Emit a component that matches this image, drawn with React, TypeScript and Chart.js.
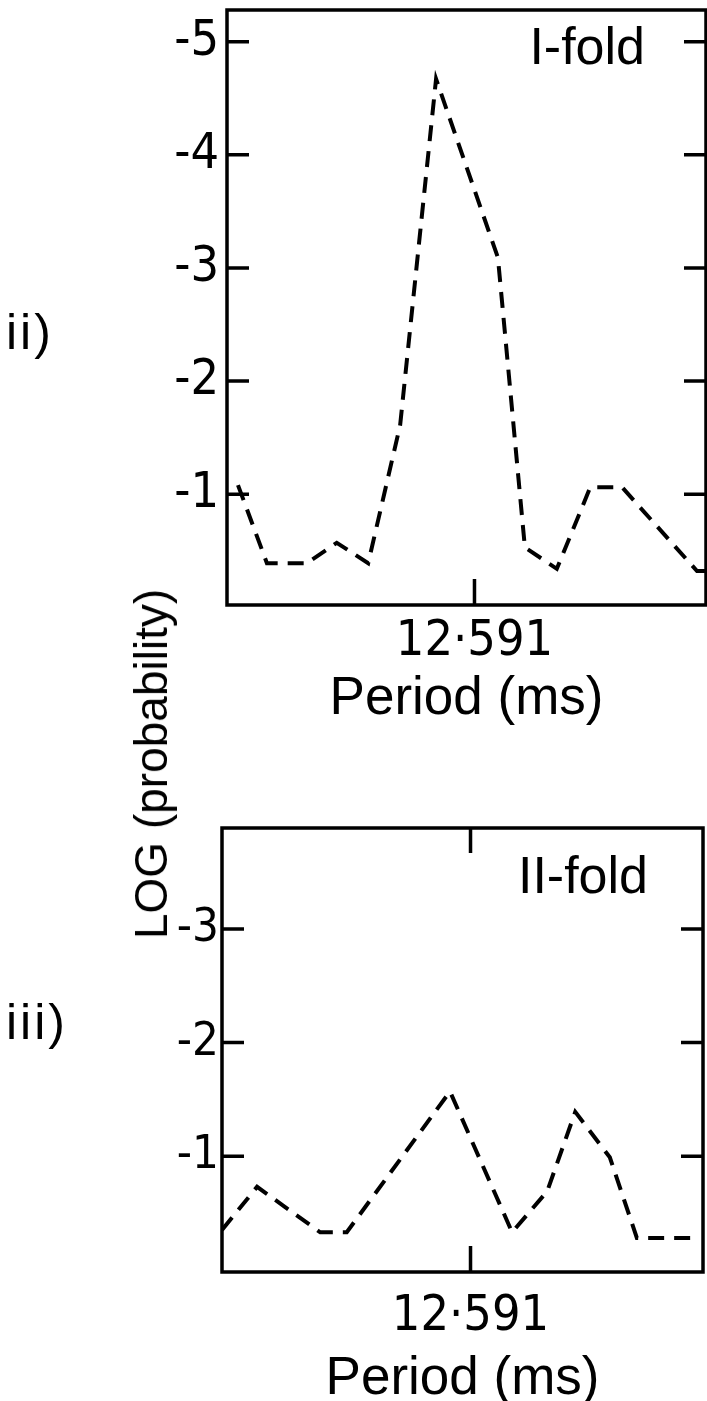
import React, { useEffect, useRef } from "react";
import { Chart, registerables } from "chart.js";

Chart.register(...registerables);

const TEXT_FONT = "'Liberation Sans', Arial, sans-serif";
const NUM_FONT = "'Liberation Sans Narrow', 'DejaVu Sans Condensed', 'Liberation Sans', sans-serif";

// x axis: trial period (ms)
const PERIOD_MIN = 12.58604;
const PERIOD_MAX = 12.59564;
const PERIOD_TICK = 12.591;
const PERIOD_TICK_LABEL = "12·591";

// ii) I-fold
const oneFoldPeriods = [12.58626, 12.58684, 12.58764, 12.58824, 12.58887, 12.58951, 12.59023, 12.59147, 12.59201, 12.59265, 12.59332, 12.59396, 12.59546, 12.59564];
const oneFoldLogProb = [-1.08, -0.39, -0.39, -0.57, -0.39, -1.61, -4.67, -3.09, -0.53, -0.34, -1.06, -1.06, -0.32, -0.32];
const oneFoldTicks = [-5, -4, -3, -2, -1];

// iii) II-fold
const twoFoldPeriods = [12.58604, 12.58674, 12.588, 12.58853, 12.59059, 12.59183, 12.59253, 12.59309, 12.59378, 12.59432, 12.59544];
const twoFoldLogProb = [-0.35, -0.73, -0.33, -0.33, -1.57, -0.33, -0.69, -1.39, -0.99, -0.28, -0.28];
const twoFoldTicks = [-3, -2, -1];

const framePlugin = {
  id: "frame",
  afterDatasetsDraw(chart: any, _args: any, opts: any) {
    const { ctx, chartArea } = chart;
    const { left, right, top, bottom } = chartArea;
    const x = chart.scales.x;
    const y = chart.scales.y;
    ctx.save();
    ctx.strokeStyle = "#000";
    ctx.lineWidth = 3.5;
    ctx.setLineDash([]);
    ctx.strokeRect(left, top, right - left, bottom - top);
    ctx.beginPath();
    for (const t of opts.yTicks) {
      const py = y.getPixelForValue(t);
      ctx.moveTo(left, py);
      ctx.lineTo(left + 22, py);
      ctx.moveTo(right - 22, py);
      ctx.lineTo(right, py);
    }
    const px = x.getPixelForValue(opts.xTick);
    ctx.moveTo(px, bottom);
    ctx.lineTo(px, bottom - 26);
    if (opts.topTick) {
      ctx.moveTo(px, top);
      ctx.lineTo(px, top + 25);
    }
    ctx.stroke();
    ctx.fillStyle = "#000";
    ctx.font = `52px ${TEXT_FONT}`;
    ctx.textAlign = "right";
    ctx.textBaseline = "alphabetic";
    ctx.fillText(opts.label, right - opts.labelRight, top + opts.labelBaseline);
    ctx.restore();
  },
};

type PanelCfg = {
  periods: number[];
  logProb: number[];
  yTicks: number[];
  yMin: number;
  yMax: number;
  label: string;
  labelRight: number;
  labelBaseline: number;
  topTick: boolean;
  padding: { top: number; right: number; bottom: number; left: number };
  yWidth: number;
  xHeight: number;
  yTickPad: number;
  yTickSize: number;
  xTickPad: number;
};

function makeChart(canvas: HTMLCanvasElement, c: PanelCfg) {
  const points = c.periods.map((p, i) => ({ x: p, y: c.logProb[i] }));
  return new Chart(canvas, {
    type: "line",
    data: {
      datasets: [
        {
          data: points,
          borderColor: "#000",
          borderWidth: 4,
          borderDash: [16, 10],
          pointRadius: 0,
          tension: 0,
          fill: false,
        },
      ],
    },
    options: {
      animation: false,
      responsive: false,
      devicePixelRatio: 1,
      layout: { padding: c.padding },
      plugins: {
        legend: { display: false },
        tooltip: { enabled: false },
        frame: {
          yTicks: c.yTicks,
          xTick: PERIOD_TICK,
          label: c.label,
          labelRight: c.labelRight,
          labelBaseline: c.labelBaseline,
          topTick: c.topTick,
        },
      } as any,
      scales: {
        x: {
          type: "linear",
          min: PERIOD_MIN,
          max: PERIOD_MAX,
          afterBuildTicks: (s: any) => {
            s.ticks = [{ value: PERIOD_TICK }];
          },
          afterFit: (s: any) => {
            s.height = c.xHeight;
            s.paddingLeft = 0;
            s.paddingRight = 0;
          },
          grid: { display: false, drawTicks: false },
          border: { display: false },
          ticks: {
            autoSkip: false,
            maxRotation: 0,
            padding: c.xTickPad,
            color: "#000",
            font: { family: NUM_FONT, size: 50 },
            callback: () => PERIOD_TICK_LABEL,
          },
          title: {
            display: true,
            text: "Period (ms)",
            color: "#000",
            font: { family: TEXT_FONT, size: 53 },
            padding: { top: 0, bottom: 0 },
          },
        },
        y: {
          type: "linear",
          reverse: true,
          min: c.yMin,
          max: c.yMax,
          afterBuildTicks: (s: any) => {
            s.ticks = c.yTicks.map((v) => ({ value: v }));
          },
          afterFit: (s: any) => {
            s.width = c.yWidth;
            s.paddingTop = 0;
            s.paddingBottom = 0;
          },
          grid: { display: false, drawTicks: false },
          border: { display: false },
          ticks: {
            padding: c.yTickPad,
            color: "#000",
            font: { family: NUM_FONT, size: c.yTickSize },
            callback: (v: any) => `-${Math.abs(Number(v))}`,
          },
        },
      },
    },
    plugins: [framePlugin as any],
  });
}

export default function App() {
  const topRef = useRef<HTMLCanvasElement>(null);
  const botRef = useRef<HTMLCanvasElement>(null);

  useEffect(() => {
    const a = makeChart(topRef.current!, {
      periods: oneFoldPeriods,
      logProb: oneFoldLogProb,
      yTicks: oneFoldTicks,
      yMin: -5.28,
      yMax: -0.02,
      label: "I-fold",
      labelRight: 61,
      labelBaseline: 54,
      topTick: false,
      padding: { top: 10, right: 1, bottom: 29, left: 0 },
      yWidth: 227,
      xHeight: 126,
      yTickPad: 8,
      yTickSize: 50,
      xTickPad: 7,
    });
    const b = makeChart(botRef.current!, {
      periods: twoFoldPeriods,
      logProb: twoFoldLogProb,
      yTicks: twoFoldTicks,
      yMin: -3.89,
      yMax: 0.02,
      label: "II-fold",
      labelRight: 55,
      labelBaseline: 65,
      topTick: true,
      padding: { top: 48, right: 4, bottom: 9, left: 0 },
      yWidth: 222,
      xHeight: 139,
      yTickPad: 3,
      yTickSize: 47,
      xTickPad: 15,
    });
    return () => {
      a.destroy();
      b.destroy();
    };
  }, []);

  const sideLabel: React.CSSProperties = {
    position: "absolute",
    fontFamily: TEXT_FONT,
    fontSize: 50,
    lineHeight: "50px",
    color: "#000",
    whiteSpace: "nowrap",
    letterSpacing: 3,
  };

  return (
    <div
      style={{
        position: "absolute",
        left: 0,
        top: 0,
        width: 707,
        height: 1401,
        overflow: "hidden",
        background: "#fff",
      }}
    >
      <canvas
        ref={topRef}
        width={707}
        height={760}
        style={{ position: "absolute", left: 0, top: 0, width: 707, height: 760, display: "block" }}
      />
      <canvas
        ref={botRef}
        width={707}
        height={640}
        style={{ position: "absolute", left: 0, top: 780, width: 707, height: 640, display: "block" }}
      />
      <div style={{ ...sideLabel, left: 6, top: 307 }}>ii)</div>
      <div style={{ ...sideLabel, left: 6, top: 997 }}>iii)</div>
      <div
        style={{
          ...sideLabel,
          fontSize: 46,
          lineHeight: "46px",
          letterSpacing: 0,
          left: 151,
          top: 764,
          transform: "translate(-50%, -50%) rotate(-90deg)",
        }}
      >
        LOG (probability)
      </div>
    </div>
  );
}
